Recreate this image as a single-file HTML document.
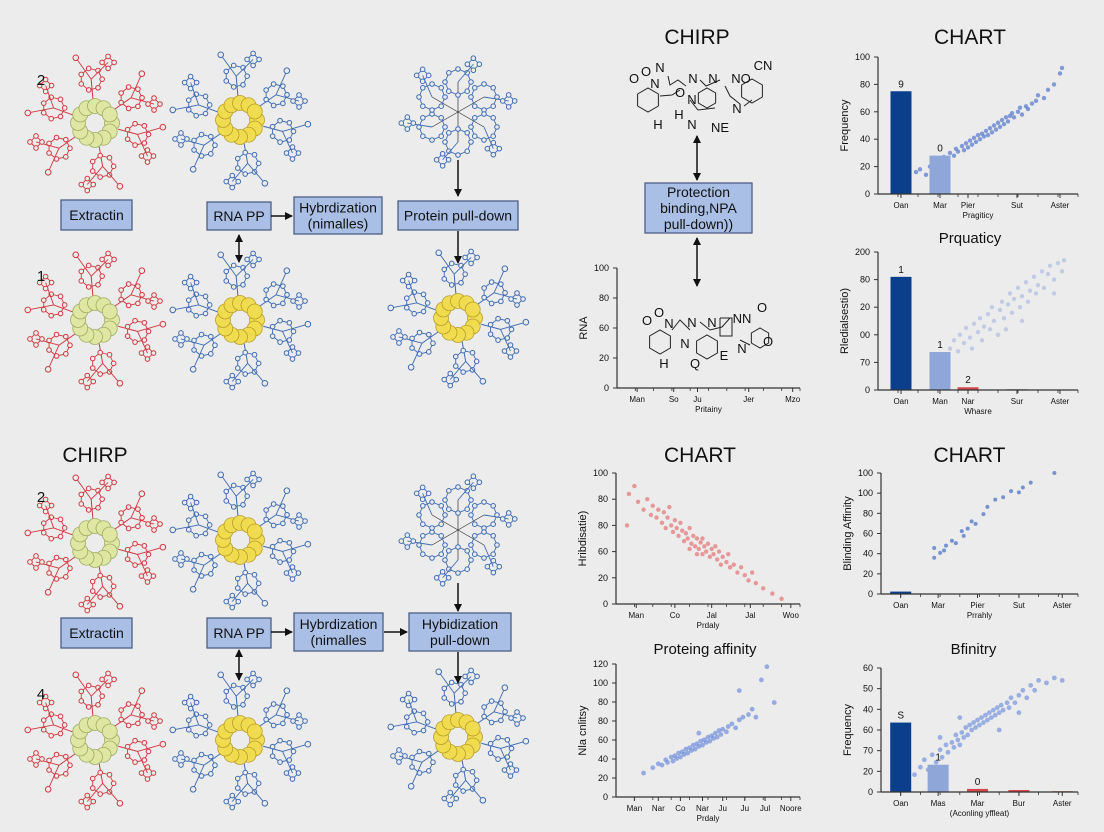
<!DOCTYPE html>
<html><head><meta charset="utf-8"><style>
html,body{margin:0;padding:0;background:#ececec;}
svg{display:block;font-family:"Liberation Sans",sans-serif;}
</style></head><body>
<svg id="canvas" width="1104" height="832" viewBox="0 0 1104 832">
<defs>
<marker id="ah" markerWidth="8" markerHeight="8" refX="7" refY="4" orient="auto" markerUnits="userSpaceOnUse"><path d="M0,0 L8,4 L0,8 z" fill="#111"/></marker>
<marker id="ahs" markerWidth="8" markerHeight="8" refX="1" refY="4" orient="auto" markerUnits="userSpaceOnUse"><path d="M8,0 L0,4 L8,8 z" fill="#111"/></marker>
</defs>
<rect x="0" y="0" width="1104" height="832" fill="#ececec"/>
</svg>
<script>
// ---- chart data ----
const c0Y=["0","20","60","80","100"];
const c0X=["Man","So","Ju","Jer","Mzo"];
const c1Y=["0","20","40","60","80","100"];
const c1X=["Oan","Mar","Pier","Sut","Aster"];
const c1Bars=[75,28];
const c1BarLabels=["9","0"];
const c1Pts=[[19,16],[21,18],[24,14],[26,20],[28,22],[30,24],[32,21],[33,27],[35,25],[36,30],[38,28],[39,33],[40,31],[42,35],[43,32],[44,37],[45,34],[46,39],[47,36],[48,41],[49,38],[50,43],[51,40],[52,44],[53,42],[54,46],[55,43],[56,48],[57,45],[58,50],[59,47],[60,52],[61,49],[62,54],[63,51],[64,56],[65,53],[66,57],[67,59],[68,56],[70,60],[71,63],[72,58],[74,64],[75,62],[77,66],[79,68],[80,72],[83,70],[85,76],[88,80],[91,88],[92,92]];
const c2Y=["0","70","00","20","80","200"];
const c2X=["Oan","Man","Nar","Sur","Aster"];
const c2Bars=[82,27.5,2,0.6];
const c2BarLabels=["1","1","2",""];
const c2Pts=[[36,30],[38,36],[40,28],[41,40],[43,34],[44,45],[46,38],[47,30],[48,48],[50,42],[51,52],[52,36],[53,46],[55,55],[56,44],[57,60],[58,50],[60,40],[61,58],[62,64],[63,52],[65,62],[66,70],[67,56],[68,66],[70,74],[71,60],[72,68],[74,78],[75,64],[76,72],[78,82],[79,70],[80,76],[82,86],[83,74],[85,84],[86,90],[88,80],[90,92],[92,86],[93,94],[88,70],[72,50],[64,44]];
const c3Y=["0","20","60","80","80","100"];
const c3X=["Man","Co","Jal","Jal","Woo"];
const c3Pts=[[7,84],[10,90],[12,78],[15,72],[17,80],[19,68],[20,75],[22,66],[23,72],[25,62],[26,70],[27,58],[28,66],[29,74],[30,60],[31,55],[32,64],[33,58],[34,52],[35,62],[36,56],[37,48],[38,54],[39,50],[40,58],[41,46],[42,52],[43,44],[44,50],[45,42],[46,47],[47,38],[48,44],[49,40],[50,46],[51,36],[52,42],[53,38],[54,44],[55,34],[56,40],[57,30],[58,36],[60,32],[61,38],[62,28],[64,30],[66,24],[68,28],[70,22],[72,18],[74,24],[76,16],[80,12],[85,8],[90,4],[6,60],[44,38],[40,42],[47,50]];
const c4Y=["0","20","40","60","80","80","100","120"];
const c4X=["Man","Nar","Co","Nar","Ju","Ju","Jul","Noore"];
const c4Pts=[[15,18],[20,22],[23,25],[25,24],[27,28],[28,26],[30,30],[31,27],[32,31],[33,29],[34,33],[35,30],[36,34],[37,32],[38,36],[39,33],[40,37],[41,35],[42,39],[43,36],[44,40],[45,38],[46,42],[47,39],[48,43],[49,41],[50,45],[51,42],[52,46],[53,44],[54,48],[55,45],[56,50],[57,47],[58,51],[60,49],[61,53],[63,55],[65,52],[67,58],[69,60],[72,62],[74,66],[76,60],[67,80],[79,88],[86,71],[82,98],[45,48]];
const c5Y=["0","20","40","60","80","100","100"];
const c5X=["Oan","Mar","Pier","Sut","Aster"];
const c5Bars=[2];
const c5Pts=[[27,38],[27,30],[30,34],[32,36],[33,40],[36,44],[38,42],[41,52],[42,48],[44,54],[46,60],[48,58],[52,66],[54,72],[58,78],[62,80],[66,85],[70,84],[72,88],[76,92],[88,100]];
const c6Y=["0","20","70","60","40","50","60"];
const c6X=["Oan","Mas","Mar","Bur","Aster"];
const c6Bars=[56,22,2.5,1.6,0.8];
const c6BarLabels=["S","1","0","",""];
const c6Pts=[[17,14],[20,20],[22,26],[24,18],[26,30],[28,24],[30,34],[31,28],[33,38],[34,32],[36,40],[37,36],[38,46],[39,42],[40,38],[41,48],[42,44],[43,52],[44,46],[45,54],[46,50],[47,56],[48,52],[49,58],[50,54],[51,60],[52,56],[53,62],[54,58],[55,64],[56,60],[57,66],[58,62],[59,68],[60,64],[61,70],[62,66],[64,72],[65,68],[66,76],[68,72],[70,78],[72,82],[74,76],[76,86],[78,82],[80,90],[84,88],[88,92],[92,90],[40,60],[60,50],[30,44],[70,64]];

const NS='http://www.w3.org/2000/svg';
const svg=document.getElementById('canvas');
function el(tag,attrs,parent){const e=document.createElementNS(NS,tag);for(const k in attrs)e.setAttribute(k,attrs[k]);(parent||svg).appendChild(e);return e;}
function txt(x,y,s,size,parent,extra){const t=el('text',Object.assign({x:x,y:y,'font-size':size,fill:'#111','text-anchor':'middle'},extra||{}),parent);t.textContent=s;return t;}

// ---- molecules ----
function loopRing(g,x,y,rad,n,col){
  let pts=[];
  for(let i=0;i<n;i++){const a=i/n*Math.PI*2;pts.push([x+Math.cos(a)*rad,y+Math.sin(a)*rad]);}
  el('polygon',{points:pts.map(p=>p.join(',')).join(' '),fill:'none',stroke:col,'stroke-width':0.9},g);
  pts.forEach(p=>el('circle',{cx:p[0],cy:p[1],r:2.3,fill:'#ececec',stroke:col,'stroke-width':1},g));
}
function molecule(cx,cy,col,core,kind,name){
  const g=el('g',{});
  
  
  const angles=[-95,-35,15,80,145,200];
  if(kind==='cluster'){
    const c2=[-90,-30,30,90,150,210];
    c2.forEach((d,i)=>{const r=d*Math.PI/180;
      const lx=cx+Math.cos(r)*30,ly=cy+Math.sin(r)*30;
      el('line',{x1:cx,y1:cy,x2:lx,y2:ly,stroke:'#333','stroke-width':0.7},g);
      loopRing(g,lx,ly,13,8,col);
      const ox=cx+Math.cos(r+0.3)*52,oy=cy+Math.sin(r+0.3)*50;
      el('line',{x1:lx,y1:ly,x2:ox,y2:oy,stroke:col,'stroke-width':0.9},g);
      loopRing(g,ox,oy,6,4,col);
    });
    return;
  }
  angles.forEach((d,i)=>{const r=d*Math.PI/180;
    const bx=cx+Math.cos(r)*24,by=cy+Math.sin(r)*24;
    const lx=cx+Math.cos(r)*44,ly=cy+Math.sin(r)*44;
    el('line',{x1:bx,y1:by,x2:lx,y2:ly,stroke:col,'stroke-width':1},g);
    loopRing(g,lx,ly,11,7,col);
    const sx=cx+Math.cos(r+0.3)*62,sy=cy+Math.sin(r+0.3)*62;
    el('line',{x1:lx,y1:ly,x2:sx,y2:sy,stroke:col,'stroke-width':0.9},g);
    loopRing(g,sx,sy,6,4,col);
    const tx=cx+Math.cos(r-0.2)*68,ty=cy+Math.sin(r-0.2)*68;
    el('line',{x1:lx,y1:ly,x2:tx,y2:ty,stroke:col,'stroke-width':0.9},g);
    el('circle',{cx:tx,cy:ty,r:2.8,fill:'#ececec',stroke:col,'stroke-width':1},g);
  });
  for(let i=0;i<12;i++){const a=i/12*Math.PI*2;
    el('circle',{cx:cx+Math.cos(a)*17,cy:cy+Math.sin(a)*17,r:7.5,fill:core,stroke:core==='#f2dc4e'?'#b59a20':'#9aa85a','stroke-width':0.8,opacity:0.95},g);}
  el('circle',{cx:cx,cy:cy,r:8,fill:'#ececec'},g);
}
const RED='#d2373f',BLUE='#3d6bb3',PALE='#dfe7a2',YEL='#f2dc4e';
molecule(95,123,RED,PALE,'std','red-molecule-top-1');
molecule(95,320,RED,PALE,'std','red-molecule-top-2');
molecule(240,120,BLUE,YEL,'std','blue-molecule-top-1');
molecule(240,320,BLUE,YEL,'std','blue-molecule-top-2');
molecule(458,112,BLUE,null,'cluster','blue-cluster-top');
molecule(458,318,BLUE,YEL,'std','blue-molecule-top-3');
molecule(95,543,RED,PALE,'std','red-molecule-bottom-1');
molecule(95,740,RED,PALE,'std','red-molecule-bottom-2');
molecule(240,540,BLUE,YEL,'std','blue-molecule-bottom-1');
molecule(240,740,BLUE,YEL,'std','blue-molecule-bottom-2');
molecule(458,530,BLUE,null,'cluster','blue-cluster-bottom');
molecule(458,737,BLUE,YEL,'std','blue-molecule-bottom-3');

// ---- boxes & arrows ----
function box(x,y,w,h,lines,name,size){
  const g=el('g',{});
  
  
  el('rect',{x:x,y:y,width:w,height:h,fill:'#a9bfe6',stroke:'#4d5f86','stroke-width':1.3},g);
  const lh=size+2,start=y+h/2-(lines.length-1)*lh/2+size*0.36;
  lines.forEach((s,i)=>txt(x+w/2,start+i*lh,s,size,g));
}
function arrow(x1,y1,x2,y2,dbl,name){
  const l=el('line',{x1:x1,y1:y1,x2:x2,y2:y2,stroke:'#111','stroke-width':1.5,'marker-end':'url(#ah)'});
  if(dbl)l.setAttribute('marker-start','url(#ahs)');
  
  
}
box(61,200,71,30,["Extractin"],'extraction-box-top',14);
box(207,202,64,28,["RNA PP"],'rna-pp-box-top',14);
box(294,197,88,37,["Hybrdization","(nimalles)"],'hybridization-box-top',14);
box(398,201,120,29,["Protein pull-down"],'protein-pulldown-box-top',14);
arrow(271,216,292,216,false,'arrow-rna-to-hyb-top');
arrow(239,235,239,262,true,'double-arrow-rna-top');
arrow(458,160,458,196,false,'arrow-into-pulldown-top');
arrow(458,231,458,263,false,'arrow-out-pulldown-top');
box(61,618,71,30,["Extractin"],'extraction-box-bottom',14);
box(207,618,64,30,["RNA PP"],'rna-pp-box-bottom',14);
box(294,613,89,38,["Hybrdization","(nimalles"],'hybridization-box-bottom',14);
box(409,613,102,38,["Hybidization","pull-down"],'hyb-pulldown-box-bottom',14);
arrow(271,632,292,632,false,'arrow-rna-to-hyb-bottom');
arrow(384,632,407,632,false,'arrow-hyb-to-pulldown-bottom');
arrow(239,650,239,680,true,'double-arrow-rna-bottom');
arrow(458,583,458,611,false,'arrow-into-pulldown-bottom');
arrow(458,652,458,683,false,'arrow-out-pulldown-bottom');

function label(x,y,s,size,name,extra){const t=txt(x,y,s,size,null,extra);return t;}
label(41,85,"2",15,'step-label-2-top');
label(41,281,"1",15,'step-label-1-top');
label(95,462,"CHIRP",21,'chirp-title-bottom-left');
label(41,502,"2",15,'step-label-2-bottom');
label(41,699,"4",15,'step-label-4-bottom');

// ---- chemistry panel ----
label(697,44,"CHIRP",21,'chirp-title-middle');
function chem(items,rings,bonds,name){
  const g=el('g',{});
  
  
  bonds.forEach(b=>el('polyline',{points:b,fill:'none',stroke:'#222','stroke-width':1},g));
  rings.forEach(r=>{let p=[];for(let i=0;i<6;i++){const a=Math.PI/6+i*Math.PI/3;p.push((r[0]+Math.cos(a)*r[2])+','+(r[1]+Math.sin(a)*r[2]));}el('polygon',{points:p.join(' '),fill:'none',stroke:'#222','stroke-width':1},g);});
  items.forEach(it=>{const t=txt(it[0],it[1],it[2],13,g);});
}
chem([[634,83,"O"],[646,76,"O"],[660,72,"N"],[655,88,"N"],[680,97,"O"],[692,104,"N"],[693,83,"N"],[713,83,"N"],[741,83,"NO"],[763,70,"CN"],[679,119,"H"],[658,129,"H"],[692,129,"N"],[720,132,"NE"],[737,113,"N"]],
 [[648,100,12],[752,91,12],[707,98,10]],
 ["668,76 670,85 678,80 686,86","700,80 706,86 720,80","660,96 672,95 680,90","725,86 730,96 740,104","744,106 752,100","690,100 698,110 715,108"],'chem-structure-top');
arrow(697,136,697,180,true,'double-arrow-chem-top');
box(645,183,107,50,["Protection","binding,NPA","pull-down))"],'protection-box',14);
arrow(697,238,697,286,true,'double-arrow-chem-bottom');

// ---- generic chart ----
function chart(o){
  const g=el('g',{});
  
  
  const sx=v=>o.x0+(o.x1-o.x0)*v/100;
  const sy=v=>o.y0-(o.y0-o.y1)*v/100;
  if(o.title){const t=txt((o.x0+o.x1)/2+(o.tdx||0),o.ty,o.title,o.tsize||15,g);}
  if(o.pts){const pg=el('g',{},g);
    o.pts.forEach(p=>{const c=el('circle',{cx:sx(p[0]),cy:sy(p[1]),r:o.pr||2.2,fill:o.pc,opacity:o.po||0.75},pg);
      
      });}
  if(o.bars){o.bars.forEach((v,i)=>{const cx=sx(o.xPos[i]);
    const b=el('rect',{x:cx-10.5,y:sy(v),width:21,height:sy(0)-sy(v),fill:o.barCols[i]},g);
    
    
    if(o.barLabels&&o.barLabels[i])txt(cx,sy(v)-4,o.barLabels[i],10,g);});}
  el('line',{x1:o.x0,y1:o.y0,x2:o.x0,y2:o.y1,stroke:'#333','stroke-width':1.2},g);
  el('line',{x1:o.x0,y1:o.y0,x2:o.x1,y2:o.y0,stroke:'#333','stroke-width':1.2},g);
  const n=o.yl.length;
  o.yl.forEach((s,i)=>{const y=o.y0-(o.y0-o.y1)*i/(n-1);
    el('line',{x1:o.x0-4,y1:y,x2:o.x0,y2:y,stroke:'#333','stroke-width':1},g);
    txt(o.x0-8,y+3,s,9,g,{'text-anchor':'end'});});
  o.xl.forEach((s,i)=>{const x=sx(o.xPos[i]);
    el('line',{x1:x,y1:o.y0,x2:x,y2:o.y0+4,stroke:'#333','stroke-width':1},g);
    txt(x,o.y0+14,s,8,g);});
  for(let i=1;i<=10;i++){const x=o.x0+(o.x1-o.x0)*i/10;el('line',{x1:x,y1:o.y0,x2:x,y2:o.y0+3,stroke:'#333','stroke-width':0.8},g);}
  if(o.xt){const t=txt(sx(50)+(o.xtdx||0),o.y0+24,o.xt,8,g);}
  if(o.yt){const yx=o.x0-30,ym=(o.y0+o.y1)/2;const t=txt(yx,ym,o.yt,11,g,{transform:'rotate(-90 '+yx+' '+ym+')'});}
}
const DK='#0b3f8c',LT='#8ea6d8',RD='#d4474b';
chart({name:'rna-chart',x0:617,x1:800,y0:388,y1:268,yl:c0Y,xl:c0X,xPos:[11,31,44,72,96],xt:'Pritainy',yt:'RNA'});
chem([[647,325,"O"],[659,317,"O"],[669,328,"N"],[692,327,"N"],[712,327,"N"],[742,323,"NN"],[762,312,"O"],[685,348,"N"],[742,353,"N"],[664,368,"H"],[695,368,"Q"],[724,360,"E"],[768,346,"O"]],
 [[660,342,12],[707,347,12],[760,338,10]],
 ["672,330 680,320 690,330","700,322 710,330 722,327 730,318","720,318 732,318 732,336 720,336 720,318","740,340 750,345"],'chem-structure-bottom');

chart({name:'frequency-chart-top',x0:878,x1:1078,y0:194,y1:57,yl:c1Y,xl:c1X,xPos:[11.5,31,45,69.5,91],title:'CHART',ty:44,tsize:21,tdx:-8,
  bars:c1Bars,barCols:[DK,LT],barLabels:c1BarLabels,pts:c1Pts,pc:'#5b7fcf',xt:'Pragiticy',yt:'Frequency'});
chart({name:'prquaticy-chart',x0:878,x1:1078,y0:390,y1:252,yl:c2Y,xl:c2X,xPos:[11.5,31,45,69.5,91],title:'Prquaticy',ty:243,tsize:15,tdx:-8,
  bars:c2Bars,barCols:[DK,LT,RD,'#999'],barLabels:c2BarLabels,pts:c2Pts,pc:'#8fa6dc',po:0.45,xt:'Whasre',yt:'Rledialsestio)'});
chart({name:'red-scatter-chart',x0:616,x1:800,y0:604,y1:473,yl:c3Y,xl:c3X,xPos:[11,32,52,73,95],title:'CHART',ty:462,tsize:21,tdx:-8,
  pts:c3Pts,pc:'#e36b6b',pr:2.2,po:0.65,xt:'Prdaly',yt:'Hribdisatie)'});
chart({name:'protein-affinity-chart',x0:616,x1:800,y0:797,y1:664,yl:c4Y,xl:c4X,xPos:[10,23,35,47,58,70,81,95],title:'Proteing affinity',ty:654,tsize:15,tdx:-3,
  pts:c4Pts,pc:'#6f8fdc',pr:2.4,po:0.7,xt:'Prdaly',yt:'Nla cnlitsy'});
chart({name:'binding-affinity-chart',x0:881,x1:1078,y0:594,y1:473,yl:c5Y,xl:c5X,xPos:[10,29,49,70,92],title:'CHART',ty:462,tsize:21,tdx:-10,
  bars:c5Bars,barCols:[DK],pts:c5Pts,pc:'#4d74c8',pr:2,xt:'Prrahly',yt:'Blinding Affinity'});
chart({name:'bfinitry-chart',x0:881,x1:1078,y0:792,y1:668,yl:c6Y,xl:c6X,xPos:[10,29,49,70,92],title:'Bfinitry',ty:654,tsize:15,tdx:-6,
  pts:c6Pts,pc:'#6f8fdc',pr:2.4,po:0.65,bars:c6Bars,barCols:[DK,LT,RD,RD,'#c98'],barLabels:c6BarLabels,xt:'(Aconling yffleat)',yt:'Frequency'});
</script>
</body></html>
